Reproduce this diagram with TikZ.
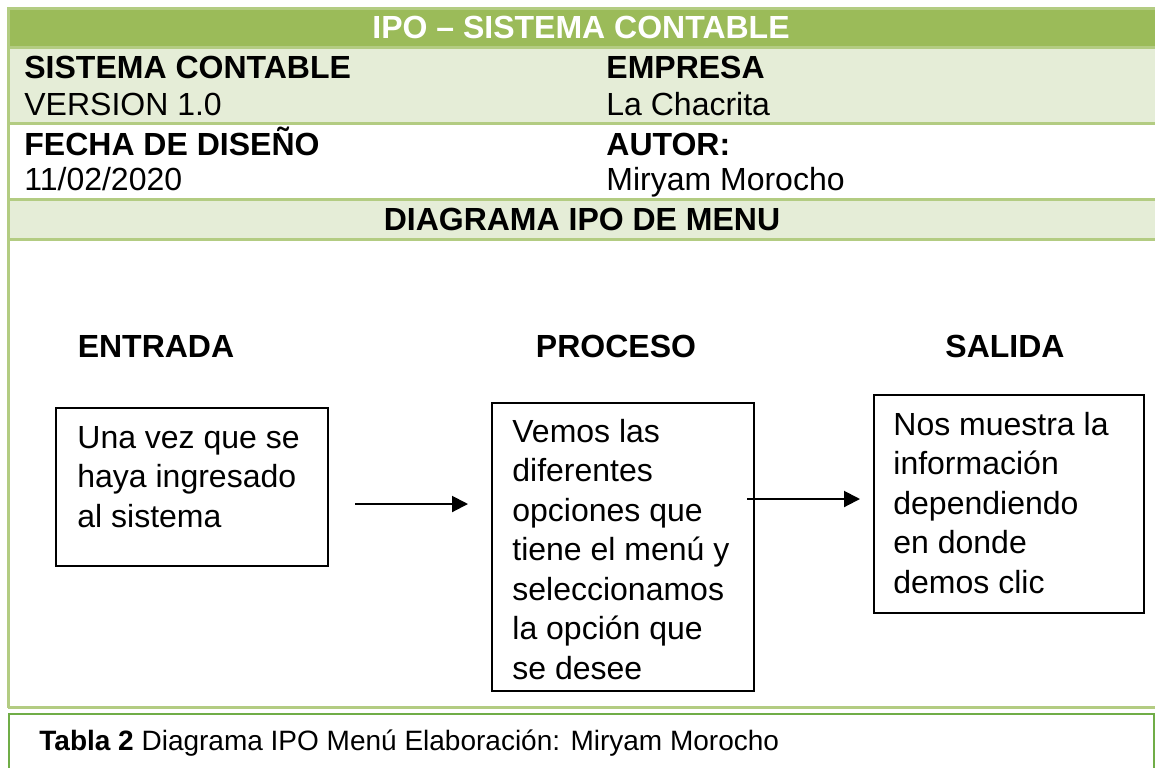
\documentclass[tikz,border=0pt]{standalone}
\usepackage{fontspec}
\setmainfont{Liberation Sans}
\usetikzlibrary{arrows.meta}
\definecolor{gband}{HTML}{9BBB59}
\definecolor{lband}{HTML}{E5EDD7}
\definecolor{gline}{HTML}{B3CC82}
\definecolor{cline}{HTML}{70AD47}
\newcommand\boxlines[1]{\parbox[t]{200pt}{\raggedright\baselineskip=19.75pt #1}}
\begin{document}
\begin{tikzpicture}[x=0.5pt,y=-0.5pt,
  lbl/.style={anchor=base west,inner sep=0pt,font=\fontsize{16pt}{19pt}\selectfont},
  hd/.style={anchor=base west,inner sep=0pt,font=\fontsize{16pt}{19pt}\selectfont\bfseries},
  ctr/.style={anchor=base,inner sep=0pt,font=\fontsize{16pt}{19pt}\selectfont\bfseries},
  ipobox/.style={draw,line width=1pt,inner sep=0pt,anchor=north west},
  flow/.style={line width=1pt,-{Triangle[length=8pt,width=8pt]}},
  bandline/.style={gline,line width=1.5pt}]
\useasboundingbox (0,0) rectangle (1155,767);
\clip (0,0) rectangle (1155,767);
% bands
\fill[gband] (8,8) rectangle (1155,47);
\fill[lband] (8,47) rectangle (1155,123);
\fill[lband] (8,199) rectangle (1155,239);
\foreach \yy in {8,47,123,199,239,707} \draw[bandline] (8,\yy) -- (1155,\yy);
\draw[bandline] (8,7) -- (8,708);
% header texts
\node[ctr,text=white] (title) at (581,38) {IPO – SISTEMA CONTABLE};
\node[hd] (sys) at (24,78) {SISTEMA CONTABLE};
\node[lbl] (ver) at (24,115) {VERSION 1.0};
\node[hd] (emp) at (606,78) {EMPRESA};
\node[lbl] (empn) at (606,115) {La Chacrita};
\node[hd] (fecha) at (24,155) {FECHA DE DISEÑO};
\node[lbl] (fechav) at (24,190) {11/02/2020};
\node[hd] (autor) at (606,155) {AUTOR:};
\node[lbl] (autorv) at (606,190) {Miryam Morocho};
\node[ctr] (diag) at (582,230) {DIAGRAMA IPO DE MENU};
% column headings
\node[ctr] (hin) at (156,357) {ENTRADA};
\node[ctr] (hpr) at (616,357) {PROCESO};
\node[ctr] (hout) at (1005,357) {SALIDA};
% boxes
\node[ipobox,minimum width=136pt,minimum height=79pt] (ein) at (55,407) {};
\node[ipobox,minimum width=131pt,minimum height=144pt] (pro) at (491,402) {};
\node[ipobox,minimum width=135pt,minimum height=109pt] (sal) at (873,394) {};
\node[lbl] (eintxt) at (77,448) {\boxlines{Una vez que se\\haya ingresado\\al sistema}};
\node[lbl] (protxt) at (512,442) {\boxlines{Vemos las\\diferentes\\opciones que\\tiene el menú y\\seleccionamos\\la opción que\\se desee}};
\node[lbl] (saltxt) at (893,435) {\boxlines{Nos muestra la\\información\\dependiendo\\en donde\\demos clic}};
% arrows
\coordinate (a1s) at (355,504);
\coordinate (a1e) at (468,504);
\coordinate (a2s) at (747,499);
\coordinate (a2e) at (860,499);
\draw[flow] (a1s) -- (a1e);
\draw[flow] (a2s) -- (a2e);
% caption
\draw[cline,line width=1.4pt] (9,714) rectangle (1154,800);
\node[anchor=base west,inner sep=0pt,font=\fontsize{14pt}{17pt}\selectfont] (cap) at (39,750) {\textbf{Tabla 2} Diagrama IPO Menú Elaboración: Miryam Morocho};
\end{tikzpicture}
\end{document}
